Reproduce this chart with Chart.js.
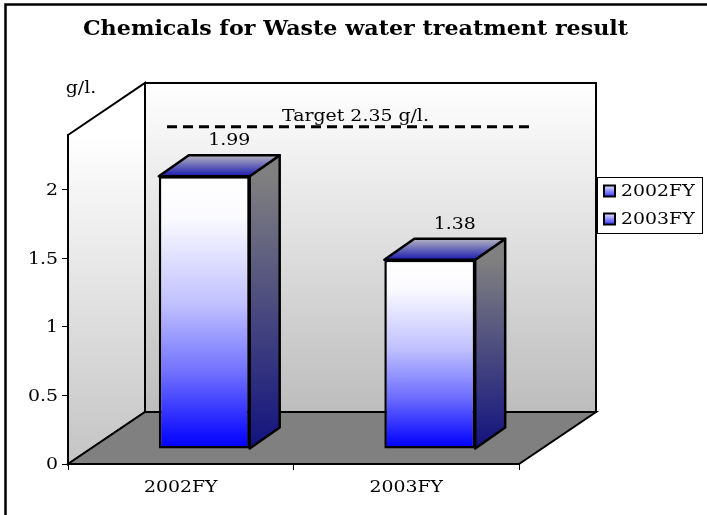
<!DOCTYPE html>
<html><head><meta charset="utf-8">
<style>html,body{margin:0;padding:0;background:#fff}canvas{display:block}</style>
<script src="https://cdn.jsdelivr.net/npm/chart.js@4"></script>
</head><body><canvas id="c" width="707" height="515"></canvas>
<script>
const categories = ["2002FY", "2003FY"];
const series2002 = [1.99, null];
const series2003 = [null, 1.38];
const seriesNames = ["2002FY", "2003FY"];
const yTicks = [0, 0.5, 1, 1.5, 2];
const targetValue = 2.35;
const targetLabel = "Target 2.35 g/l.";
const unitLabel = "g/l.";
const titleText = "Chemicals for Waste water treatment result";

const FONT = '"DejaVu Serif"';
const DEPTH = {x: 77, y: -52};
const BAR_SHIFT = {x: 23.5, y: -15};
const BAR_SIDE = {x: 30, y: -21};
const TEXT_STRETCH = 1.18;
const TITLE_STRETCH = 1.11;

function grad(ctx, y0, y1, stops) {
  const g = ctx.createLinearGradient(0, y0, 0, y1);
  stops.forEach(s => g.addColorStop(s[0], s[1]));
  return g;
}
function poly(ctx, pts, fill) {
  ctx.beginPath();
  pts.forEach((p, i) => i ? ctx.lineTo(p[0], p[1]) : ctx.moveTo(p[0], p[1]));
  ctx.closePath();
  if (fill) { ctx.fillStyle = fill; ctx.fill(); }
  ctx.stroke();
}
function frontFill(c) {
  const s = c.chart.scales.y;
  if (!s || c.raw === null || c.raw === undefined) return "#0000ff";
  const top = s.getPixelForValue(c.raw), base = s.getPixelForValue(0);
  if (!isFinite(top) || !isFinite(base)) return "#0000ff";
  return grad(c.chart.ctx, top, base, [[0, "#ffffff"], [0.15, "#fbfbff"], [0.47, "#c0c0ff"], [0.72, "#7070ff"], [0.95, "#1010ff"], [1, "#0000ff"]]);
}

const canvas = document.getElementById("c");
const ctx0 = canvas.getContext("2d");
const rawFillText = ctx0.fillText.bind(ctx0);
ctx0.fillText = function (text, x, y) {
  const k = ctx0.font.indexOf("bold") >= 0 ? TITLE_STRETCH : TEXT_STRETCH;
  ctx0.save();
  ctx0.translate(x, y + 1);
  ctx0.scale(k, 1);
  rawFillText(text, 0, 0);
  ctx0.restore();
};

const scene = {
  id: "scene",
  afterLayout(chart) {
    if (chart.titleBlock) { chart.titleBlock.left = 0; chart.titleBlock.right = 711; }
  },
  beforeDraw(chart) {
    const {ctx, chartArea: a} = chart;
    const L = a.left, R = a.right, T = a.top, B = a.bottom;
    ctx.save();
    ctx.fillStyle = "#fff";
    ctx.fillRect(0, 0, chart.width, chart.height);
    ctx.strokeStyle = "#000";
    ctx.lineWidth = 2.5;
    ctx.beginPath();
    ctx.moveTo(5.5, 515); ctx.lineTo(5.5, 4.5); ctx.lineTo(707, 4.5);
    ctx.stroke();
    ctx.lineWidth = 2;
    const wall = grad(ctx, T + DEPTH.y, B + DEPTH.y, [[0, "#ffffff"], [1, "#bdbdbd"]]);
    poly(ctx, [[L + DEPTH.x, T + DEPTH.y], [R + DEPTH.x, T + DEPTH.y], [R + DEPTH.x, B + DEPTH.y], [L + DEPTH.x, B + DEPTH.y]], wall);
    poly(ctx, [[L, T], [L + DEPTH.x, T + DEPTH.y], [L + DEPTH.x, B + DEPTH.y], [L, B]], grad(ctx, T, B, [[0, "#ffffff"], [1, "#c4c4c4"]]));
    poly(ctx, [[L, B], [L + DEPTH.x, B + DEPTH.y], [R + DEPTH.x, B + DEPTH.y], [R, B]], "#808080");
    ctx.restore();
  },
  beforeDatasetsDraw(chart) {
    const ctx = chart.ctx;
    ctx.save();
    ctx.translate(BAR_SHIFT.x, BAR_SHIFT.y);
    ctx.strokeStyle = "#000";
    ctx.lineWidth = 2.5;
    ctx.lineJoin = "round";
    chart.data.datasets.forEach((ds, di) => {
      chart.getDatasetMeta(di).data.forEach((el, i) => {
        if (ds.data[i] === null) return;
        const p = el.getProps(["x", "y", "base", "width"], true);
        const l = p.x - p.width / 2, r = p.x + p.width / 2;
        poly(ctx, [[r, p.y], [r + BAR_SIDE.x, p.y + BAR_SIDE.y], [r + BAR_SIDE.x, p.base + BAR_SIDE.y], [r, p.base]],
          grad(ctx, p.y, p.base, [[0, "#808080"], [1, "#12127f"]]));
        poly(ctx, [[l, p.y], [l + BAR_SIDE.x, p.y + BAR_SIDE.y], [r + BAR_SIDE.x, p.y + BAR_SIDE.y], [r, p.y]],
          grad(ctx, p.y + BAR_SIDE.y, p.y, [[0, "#b4b4c0"], [1, "#1a1ab0"]]));
      });
    });
  },
  afterDatasetsDraw(chart) {
    const ctx = chart.ctx;
    ctx.restore();
    const y = chart.scales.y, x = chart.scales.x;
    ctx.save();
    ctx.fillStyle = "#000";
    ctx.textAlign = "center";
    ctx.textBaseline = "middle";
    ctx.font = "16px " + FONT;
    chart.data.datasets.forEach((ds, di) => {
      chart.getDatasetMeta(di).data.forEach((el, i) => {
        if (ds.data[i] === null) return;
        const p = el.getProps(["x", "y", "width"], true);
        ctx.fillText(ds.data[i].toFixed(2), p.x + BAR_SHIFT.x + 25, p.y + BAR_SHIFT.y - 36);
      });
    });
    const ty = y.getPixelForValue(targetValue) + BAR_SHIFT.y;
    ctx.strokeStyle = "#000";
    ctx.lineWidth = 3;
    ctx.setLineDash([10, 6]);
    ctx.beginPath();
    ctx.moveTo(x.left + 99, ty);
    ctx.lineTo(x.right + 11, ty);
    ctx.stroke();
    ctx.setLineDash([]);
    ctx.fillText(targetLabel, (x.left + x.right) / 2 + 62, ty - 11);
    ctx.fillText(unitLabel, 81, 88);

    // legend
    ctx.lineWidth = 1;
    ctx.fillStyle = "#fff";
    ctx.fillRect(597.5, 177.5, 105, 56);
    ctx.strokeRect(597.5, 177.5, 105, 56);
    ctx.textAlign = "left";
    seriesNames.forEach((n, i) => {
      const ly = 191 + i * 28;
      ctx.lineWidth = 2;
      ctx.strokeStyle = "#000";
      ctx.fillStyle = grad(ctx, ly - 6, ly + 6, [[0, "#f0f0ff"], [1, "#2a2aff"]]);
      ctx.fillRect(604, ly - 5.5, 11, 11);
      ctx.strokeRect(604, ly - 5.5, 11, 11);
      ctx.fillStyle = "#000";
      ctx.fillText(n, 621, ly);
    });
    ctx.restore();
  }
};

new Chart(canvas, {
  type: "bar",
  data: {
    labels: categories,
    datasets: [
      {label: seriesNames[0], data: series2002, backgroundColor: frontFill, borderColor: "#000", borderWidth: 2.5, borderSkipped: false, clip: false},
      {label: seriesNames[1], data: series2003, backgroundColor: frontFill, borderColor: "#000", borderWidth: 2.5, borderSkipped: false, clip: false}
    ]
  },
  plugins: [scene],
  options: {
    responsive: false,
    animation: false,
    layout: {padding: {left: 0, right: 188, top: 0, bottom: 0}},
    datasets: {bar: {barPercentage: 1, categoryPercentage: 0.403}},
    plugins: {
      legend: {display: false},
      tooltip: {enabled: false},
      title: {display: true, text: titleText, color: "#000",
        font: {family: FONT, size: 20, weight: "bold"}, padding: {top: 17, bottom: 94}}
    },
    scales: {
      x: {
        stacked: true,
        grid: {drawOnChartArea: false, drawTicks: true, tickLength: 6, color: "#000"},
        border: {color: "#000", width: 2},
        ticks: {color: "#000", font: {family: FONT, size: 16}, padding: 7, maxRotation: 0},
        afterFit(s) { s.height = 51; }
      },
      y: {
        stacked: true,
        min: 0, max: 2.4,
        grid: {drawOnChartArea: false, drawTicks: true, tickLength: 6, color: "#000"},
        border: {color: "#000", width: 2},
        afterBuildTicks(s) { s.ticks = yTicks.map(v => ({value: v})); },
        ticks: {color: "#000", font: {family: FONT, size: 16}, padding: 4, callback: v => String(v)},
        afterFit(s) { s.width = 68; }
      }
    }
  }
});
</script></body></html>
